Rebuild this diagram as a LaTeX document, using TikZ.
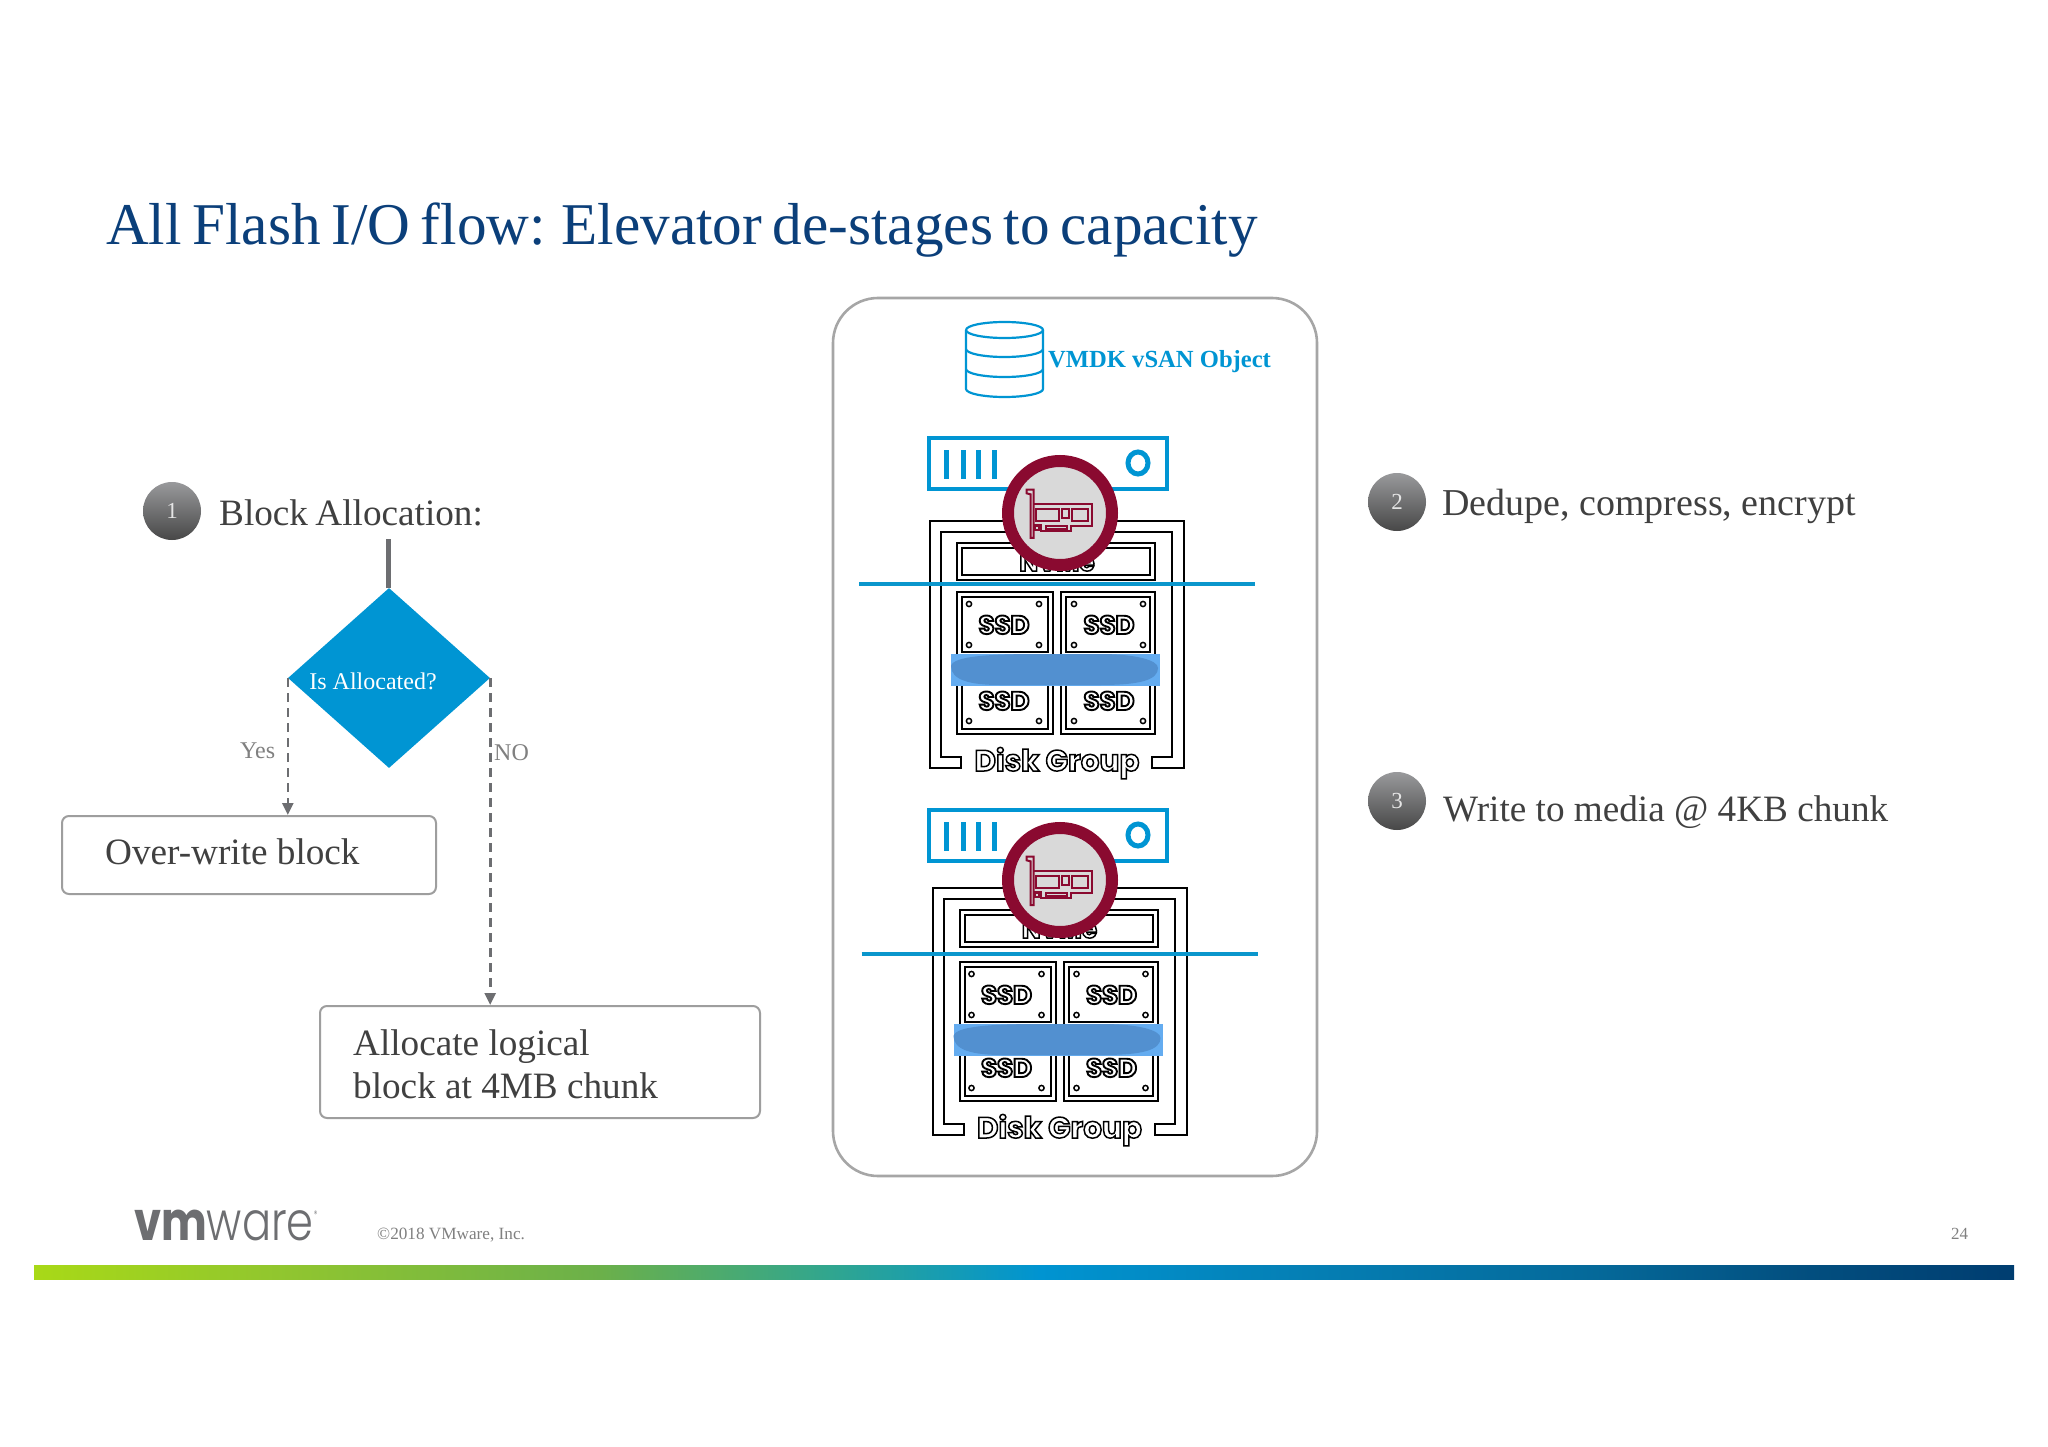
\documentclass[tikz,border=0pt]{standalone}
\usepackage{fontspec}
\usetikzlibrary{shapes.geometric,arrows.meta}
\setmainfont{Liberation Serif}
\newfontfamily\popfont{Poppins}
\newfontfamily\poplight{Poppins Light}
\definecolor{vblue}{HTML}{0095D3}
\definecolor{lineblue}{HTML}{0A96CC}
\definecolor{titleblue}{HTML}{0B3F7A}
\definecolor{bodytxt}{HTML}{404040}
\definecolor{dgrey}{HTML}{6D6E71}
\definecolor{nicred}{HTML}{8A0A30}
\definecolor{bandlight}{RGB}{100,172,240}
\definecolor{banddark}{RGB}{82,144,208}
\pgfdeclarehorizontalshading{barshade}{100bp}{
 rgb(0bp)=(0.66,0.85,0.09);
 rgb(25bp)=(0.66,0.85,0.09);
 rgb(31.7bp)=(0.56,0.77,0.19);
 rgb(39.3bp)=(0.42,0.69,0.29);
 rgb(45.1bp)=(0.19,0.65,0.56);
 rgb(50.4bp)=(0.0,0.58,0.82);
 rgb(57bp)=(0.02,0.50,0.71);
 rgb(64.5bp)=(0.02,0.41,0.60);
 rgb(69.6bp)=(0.01,0.31,0.50);
 rgb(75bp)=(0.0,0.24,0.44);
 rgb(100bp)=(0.0,0.24,0.44)}
\newcommand{\outl}[2][1]{\special{pdf:code 0 0 0 RG 2 Tr #1 w}#2\special{pdf:code 0 Tr}}
\newcommand{\ssdtext}{\fontsize{26}{26}\selectfont\popfont\bfseries\outl[1.9]{SSD}}
\tikzset{
 txt/.style={anchor=base west,inner sep=0pt,text=bodytxt,font=\fontsize{37.2}{42}\selectfont},
 stepcircle/.style={circle,minimum size=58pt,inner sep=0pt,top color=dgrey!70!white,bottom color=black!72,text=white!90!black,font=\fontsize{23}{23}\selectfont},
 flowbox/.style={draw=black!38,line width=2pt,rounded corners=7pt,fill=white,inner sep=0pt},
 dashline/.style={draw=dgrey,line width=2.6pt,dash pattern=on 9pt off 6pt,-{Triangle[width=11pt,length=12pt]}},
 blk/.style={draw=black,line width=2pt},
 srv/.style={draw=vblue,line width=4.4pt},
 nic/.style={draw=nicred,line width=2pt},
 outlined/.style={anchor=base,inner sep=0pt,text=white},
}
\newcommand{\diskgroup}[6]{%
 % #1 name, #2 server y, #3 circle y, #4 frame dx, #5 frame dy, #6 ssd dy extra
 \begin{scope}[shift={(#4,#5)}]
  \draw[blk] (961,768) -- (930,768) -- (930,521) -- (1184,521) -- (1184,768) -- (1152,768) -- (1152,757) -- (1172,757) -- (1172,532) -- (941,532) -- (941,757) -- (961,757) -- cycle;
  \draw[blk,fill=white] (957,543) rectangle (1155,580);
  \draw[blk] (962,548) rectangle (1150,575);
  \node[outlined,font=\fontsize{25}{25}\selectfont\popfont\bfseries] (#1nvme) at (1057,571) {\outl[1.5]{NVMe}};
  \begin{scope}[yshift=-#6pt]
  \draw[blk] (957,592) rectangle (1053,660);
  \draw[blk] (962,597) rectangle (1048,652);
  \draw[blk] (1061,592) rectangle (1155,660);
  \draw[blk] (1066,597) rectangle (1150,652);
  \foreach \x in {969,1039,1074,1143} \foreach \y in {604,645} \draw[line width=1.5pt] (\x,\y) circle (2.6pt);
  \end{scope}
  \draw[blk] (957,674) rectangle (1053,734);
  \draw[blk] (962,680) rectangle (1048,729);
  \draw[blk] (1061,674) rectangle (1155,734);
  \draw[blk] (1066,680) rectangle (1150,729);
  \foreach \x in {969,1039,1074,1143} \draw[line width=1.5pt] (\x,721) circle (2.6pt);
  \node[outlined] (#1ssdc) at (1004,710) {\ssdtext};
  \node[outlined] (#1ssdd) at (1109,710) {\ssdtext};
  \node[outlined,font=\fontsize{29.5}{30}\selectfont\popfont\bfseries] (#1dg) at (1057,771) {\outl[1.5]{Disk Group}};
  \begin{scope}[yshift=-#6pt]
  \node[outlined] (#1ssda) at (1004,634) {\ssdtext};
  \node[outlined] (#1ssdb) at (1109,634) {\ssdtext};
  \draw[draw=lineblue,line width=4.8pt] (859,584) coordinate (#1la) -- (1255,584) coordinate (#1lb);
  \fill[bandlight] (951,654) rectangle (1160,686);
  \fill[banddark] (951,666) .. controls (953,656) and (990,654) .. (1040,654) -- (1100,654) .. controls (1135,654) and (1158,660) .. (1158,668) .. controls (1158,680) and (1140,685) .. (1100,685) -- (1000,685) .. controls (970,685) and (951,680) .. (951,666) -- cycle;
  \end{scope}
 \end{scope}
 % server
 \begin{scope}[yshift=-#2pt]
  \draw[srv] (929,438) rectangle (1167,489);
  \foreach \x in {946,963,978,994} \draw[draw=vblue,line width=5pt] (\x,450) -- (\x,479);
  \draw[draw=vblue,line width=5pt] (1138,463) ellipse (10pt and 11pt);
 \end{scope}
 % NIC
 \node[circle,draw=nicred,line width=12pt,fill=black!15,minimum size=104pt,inner sep=0pt] (#1nic) at (1060,{513+#3}) {};
 \begin{scope}[shift={(1060,{513+#3})},x=0.3333pt,y=-0.3333pt,shift={(-180,-160)}]
  \draw[nic] (80,90) -- (101,90) -- (101,235) -- (92,235) -- (92,104) -- (80,101) -- cycle;
  \draw[nic] (101,133) -- (275,133) -- (275,200) -- (212,200) -- (212,213) -- (122,213) -- (122,195) -- (101,195);
  \draw[nic] (108,148) rectangle (176,185);
  \draw[nic] (217,148) rectangle (263,185);
  \draw[nic] (185,148) rectangle (206,176);
  \draw[nic] (138,200) rectangle (200,207);
  \draw[nic] (106,198) rectangle (116,212);
 \end{scope}
}
\begin{document}
\begin{tikzpicture}[x=1pt,y=-1pt]
\useasboundingbox (0,0) rectangle (2048,1447);
\fill[white] (0,0) rectangle (2048,1447);
% title
\node[anchor=base west,inner sep=0pt,text=titleblue,font=\fontsize{59.2}{60}\selectfont] (title) at (106,245) {\spaceskip=0.18em All Flash I/O flow: Elevator de-stages to capacity};
% panel
\draw[draw=black!35,line width=2.6pt,rounded corners=45pt] (833,298) rectangle (1317,1176);
% cylinder
\begin{scope}[draw=vblue,line width=2.2pt]
 \draw (966,330) arc[start angle=180,end angle=-180,x radius=38.5pt,y radius=8pt];
 \draw (966,330) -- (966,389) arc[start angle=180,end angle=360,x radius=38.5pt,y radius=8pt] -- (1043,330);
 \draw (966,349) arc[start angle=180,end angle=360,x radius=38.5pt,y radius=8pt];
 \draw (966,369) arc[start angle=180,end angle=360,x radius=38.5pt,y radius=8pt];
\end{scope}
\node[anchor=base west,inner sep=0pt,text=vblue,font=\fontsize{24.6}{25}\selectfont\bfseries] (vmdk) at (1048,367) {VMDK vSAN Object};
\diskgroup{a}{0}{0}{0}{0}{0}
\diskgroup{b}{372}{367}{2.5}{367}{3}
% left flow
\node[stepcircle] (c1) at (172,511) {1};
\node[txt] (t1) at (219,525) {\spaceskip=0.2em Block Allocation:};
\node[diamond,fill=vblue,inner sep=0pt,minimum width=202pt,minimum height=180pt,aspect=1.12] (dia) at (389,678) {};
\node[anchor=base,inner sep=0pt,text=white,font=\fontsize{24}{25}\selectfont] (diat) at (373,689) {Is Allocated?};
\coordinate (in) at (388,539);
\draw[draw=dgrey,line width=5pt] (in) -- (in |- dia.north);
\node[flowbox,minimum width=374pt,minimum height=78pt] (box1) at (249,855) {};
\node[txt] (box1t) at (105,864) {Over-write block};
\node[flowbox,minimum width=440pt,minimum height=112pt] (box2) at (540,1062) {};
\node[txt] (box2a) at (353,1055) {Allocate logical};
\node[txt] (box2b) at (353,1098) {block at 4MB chunk};
\draw[dashline] (dia.west) -- (dia.west |- box1.north);
\draw[dashline] (dia.east) -- (dia.east |- box2.north);
\node[anchor=base west,inner sep=0pt,text=black!50,font=\fontsize{24}{24}\selectfont] (yes) at (240,758) {Yes};
\node[anchor=base west,inner sep=0pt,text=black!50,font=\fontsize{24}{24}\selectfont] (no) at (494,760) {NO};
% right
\node[stepcircle] (c2) at (1397,502) {2};
\node[txt,font=\fontsize{38}{42}\selectfont] (t2) at (1442,515) {Dedupe, compress, encrypt};
\node[stepcircle] (c3) at (1397,801) {3};
\node[txt] (t3) at (1443,821) {Write to media @ 4KB chunk};
% footer
\node[anchor=base west,inner sep=0pt,text=dgrey] (logo) at (134,1240) {\scalebox{0.8}[1]{\fontsize{54}{54}\selectfont\popfont\bfseries vm\poplight\mdseries ware\raisebox{23pt}{\fontsize{9}{9}\selectfont\textregistered}}};
\node[anchor=base west,inner sep=0pt,text=black!50,font=\fontsize{17.2}{17}\selectfont] (copy) at (377,1239) {©2018 VMware, Inc.};
\node[anchor=base west,inner sep=0pt,text=black!50,font=\fontsize{17}{17}\selectfont] (page) at (1951,1239) {24};
\shade[shading=barshade] (34,1265) rectangle (2014,1279);
\end{tikzpicture}
\end{document}
